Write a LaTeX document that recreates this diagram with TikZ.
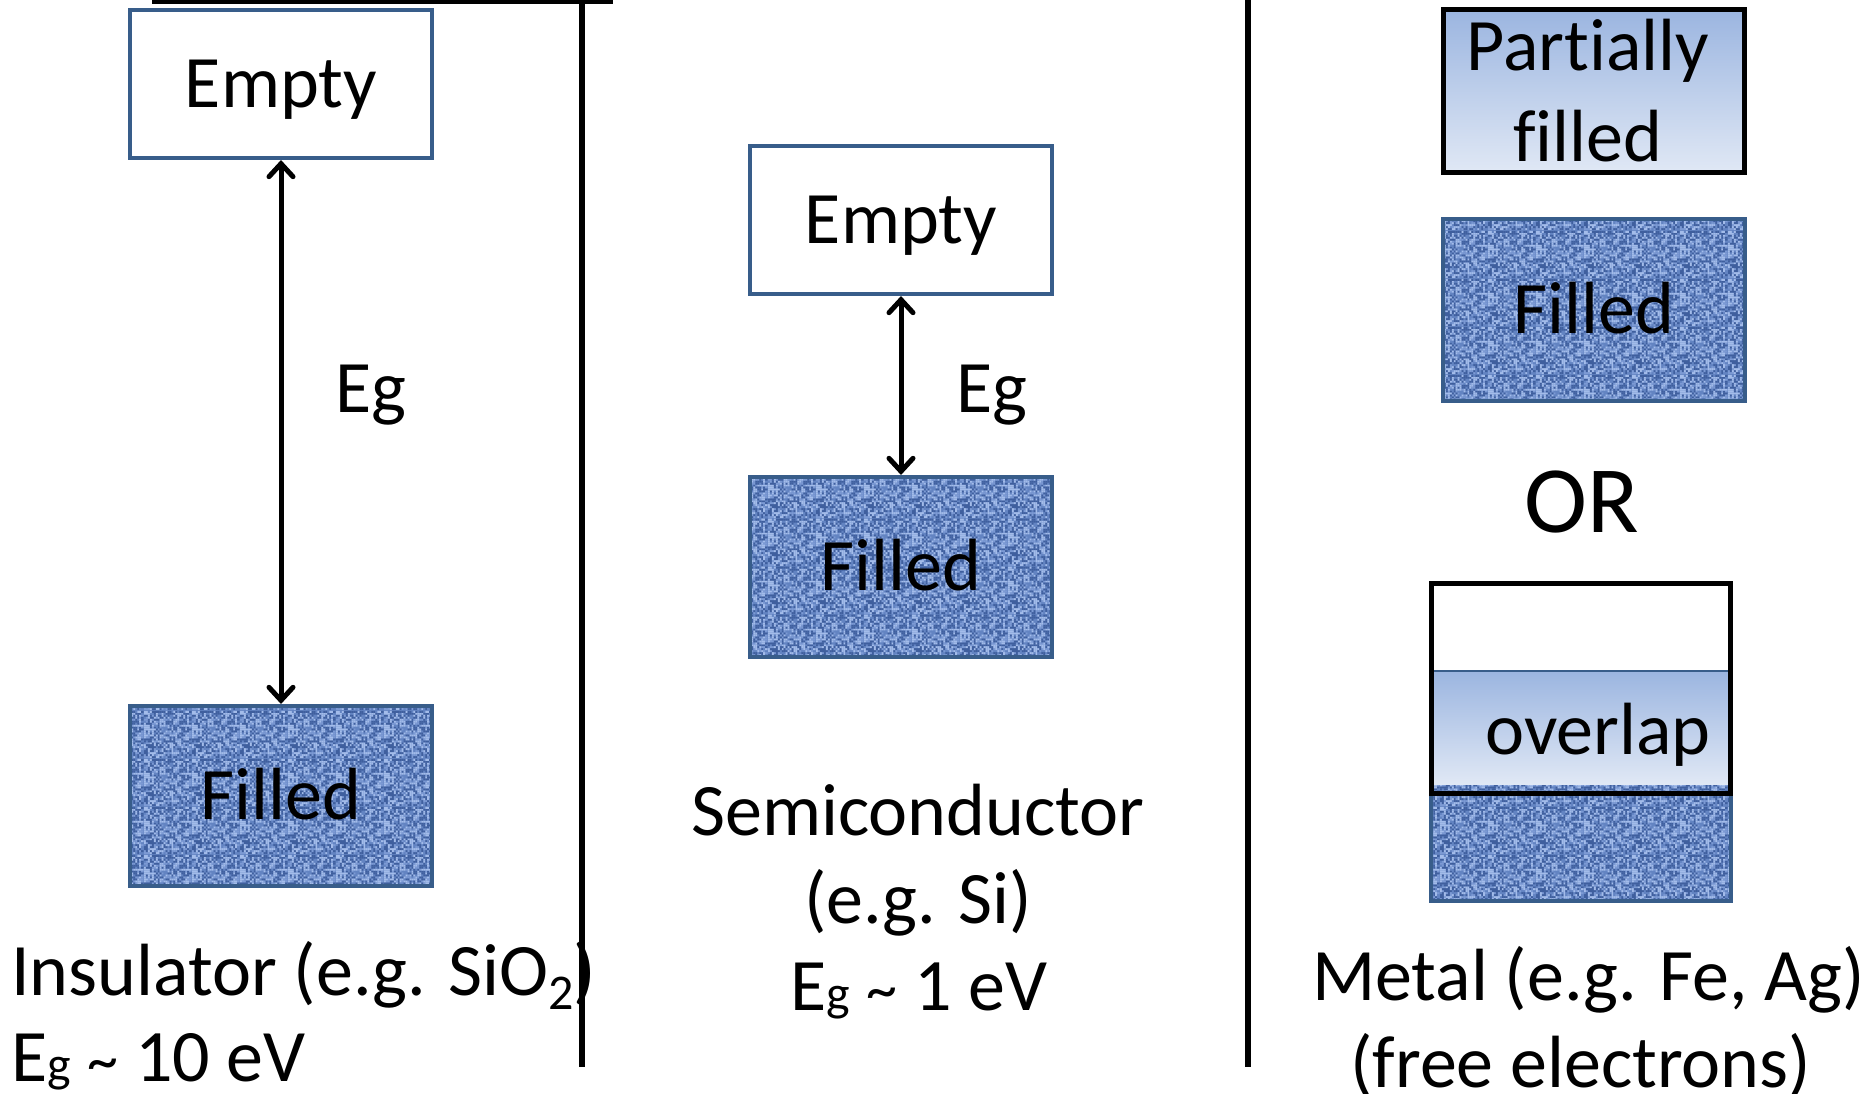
\documentclass[tikz,border=0pt]{standalone}
\usepackage{fontspec}
\setmainfont{Carlito}[Ligatures={NoCommon,TeX}]
\usetikzlibrary{arrows.meta,patterns}
\definecolor{boxblue}{HTML}{385D8A}
\definecolor{denimbase}{HTML}{6384C2}
\definecolor{denimlight}{HTML}{A3BCEA}
\definecolor{denimmid}{HTML}{7C9AD4}
\definecolor{denimdark}{HTML}{3F5F9E}
\definecolor{gradtop}{HTML}{9BB5E0}
\definecolor{gradbot}{HTML}{E0E8F5}
\newcommand\mainsize{\fontsize{74}{91}\selectfont}
\newcommand\orsize{\fontsize{95}{105}\selectfont}
\newcommand\smallsize{\fontsize{50}{56}\selectfont}
\newcommand\tildesize{\fontsize{62}{66}\selectfont}
\pgfmathsetseed{11}
\pgfdeclarepatterninherentlycolored{denim}{\pgfpointorigin}{\pgfpoint{48pt}{48pt}}{\pgfpoint{48pt}{48pt}}{%
  \pgfsetfillcolor{denimbase}%
  \pgfpathrectangle{\pgfpointorigin}{\pgfpoint{48pt}{48pt}}\pgfusepath{fill}%
  \foreach \i in {0,...,23}{\foreach \j in {0,...,23}{%
    \pgfmathrandominteger{\r}{0}{5}%
    \ifcase\r \pgfsetfillcolor{denimlight}\or\pgfsetfillcolor{denimlight}\or\pgfsetfillcolor{denimdark}\or\pgfsetfillcolor{denimmid}\or\pgfsetfillcolor{denimbase}\or\pgfsetfillcolor{denimdark}\fi
    \pgfpathrectangle{\pgfpoint{\i*2pt}{\j*2pt}}{\pgfpoint{2pt}{2pt}}\pgfusepath{fill}%
  }}%
}
\tikzset{
  emptybox/.style={draw=boxblue, line width=4pt, fill=white, minimum width=302pt, minimum height=148pt, inner sep=0pt, font=\mainsize, text height=47pt, text depth=0pt},
  denimfill/.style={preaction={fill=denimbase}, pattern=denim},
  filledbox/.style={draw=boxblue, line width=4pt, denimfill, minimum width=302pt, minimum height=180pt, inner sep=0pt, font=\mainsize, text height=47pt, text depth=0pt},
  partbox/.style={draw=black, line width=5pt, top color=gradtop, bottom color=gradbot, minimum width=301pt, minimum height=163pt, inner sep=0pt, font=\mainsize, align=center},
  lbl/.style={font=\mainsize, inner sep=0pt},
  gaparrow/.style={line width=5pt, {Straight Barb[length=13pt,width=24pt,line cap=round]}-{Straight Barb[length=13pt,width=24pt,line cap=round]}},
  sepline/.style={line width=6pt},
}
\newcommand\gapsym{E{\smallsize g\,\,{\tildesize\char"7E}}}
\begin{document}
\begin{tikzpicture}[x=1pt,y=-1pt]
\useasboundingbox (0,0) rectangle (1874,1094);
% separators
\coordinate (t1) at (152,2);
\coordinate (t2) at (613,2);
\draw[line width=4pt] (t1) -- (t2);
\coordinate (v1a) at (582,0);
\coordinate (v1b) at (582,1067);
\coordinate (v2a) at (1248,0);
\coordinate (v2b) at (1248,1067);
\draw[sepline] (v1a) -- (v1b);
\draw[sepline] (v2a) -- (v2b);
% insulator
\node[emptybox] (insE) at (281,84) {Empty};
\node[filledbox] (insF) at (281,796) {Filled};
\draw[gaparrow] (insE.south) -- (insF.north);
\node[lbl, anchor=base] (insEg) at (371,412) {Eg};
\node[lbl, anchor=base west] (insName) at (11,995) {Insulator (e.g. SiO\raisebox{-14pt}{\smallsize 2})};
\node[lbl, anchor=base west] (insGap) at (11,1081) {\gapsym{} 10 eV};
% semiconductor
\node[emptybox] (semE) at (901,220) {Empty};
\node[filledbox] (semF) at (901,567) {Filled};
\draw[gaparrow] (semE.south) -- (semF.north);
\node[lbl, anchor=base] (semEg) at (992,412) {Eg};
\node[lbl, anchor=base] (semName) at (918,835) {Semiconductor};
\node[lbl, anchor=base] (semEx) at (918,923) {(e.g. Si)};
\node[lbl, anchor=base west] (semGap) at (790,1010) {\gapsym{} 1 eV};
% metal
\node[partbox] (metP) at (1594,91) {Partially\hspace*{12pt}\\filled\hspace*{12pt}};
\node[filledbox, minimum height=181pt] (metF) at (1594,310) {Filled};
\node[font=\orsize, inner sep=0pt, anchor=base] (metOR) at (1582,532) {OR};
% overlap composite
\draw[boxblue, line width=4pt, denimfill] (1431,668) rectangle (1731,901);
\fill[white] (1431,583) rectangle (1731,672);
\shade[top color=gradtop, bottom color=gradbot] (1431,671) rectangle (1731,784);
\draw[boxblue, line width=1.5pt] (1431,671) -- (1731,671);
\draw[black, line width=5pt] (1431.5,583.5) rectangle (1730.5,793.5);
\node[lbl, anchor=base] (metOv) at (1598,754) {overlap};
\node[lbl, anchor=base west] (metName) at (1312,1000) {Metal (e.g. Fe, Ag)};
\node[lbl, anchor=base west] (metFree) at (1350,1087) {(free electrons)};
\end{tikzpicture}
\end{document}
